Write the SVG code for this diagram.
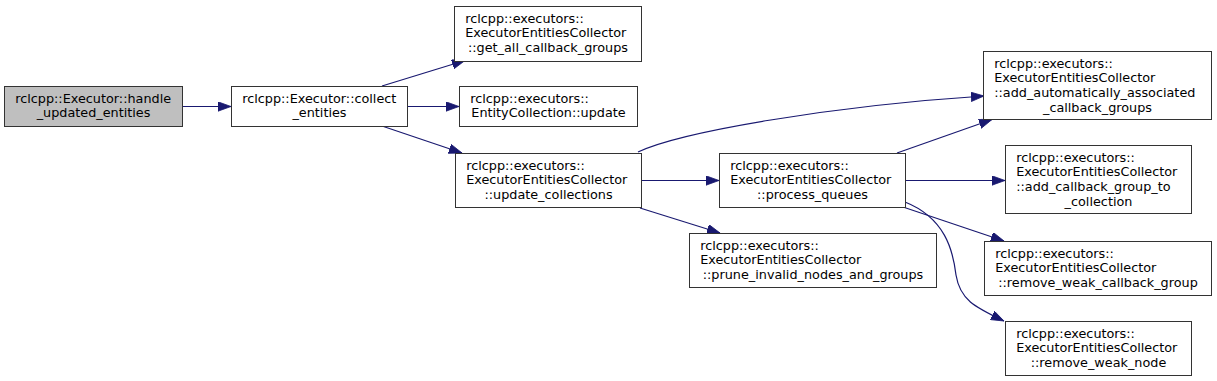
<svg xmlns="http://www.w3.org/2000/svg" width="1217" height="381" viewBox="0 0 1217 381">
<defs>
<style>
.box{fill:#ffffff;stroke:#333333;stroke-width:1}
.root{fill:#bfbfbf}
text{font-family:"DejaVu Sans","Liberation Sans",sans-serif;font-size:12.8px;fill:#000000}
.c{text-anchor:middle}
.edge{fill:none;stroke:#191970;stroke-width:1.2;marker-end:url(#ah)}
</style>
<marker id="ah" markerUnits="userSpaceOnUse" markerWidth="14" markerHeight="10" refX="13" refY="4.7" orient="auto">
<path d="M0,0 L13,4.7 L0,9.4 z" fill="#191970" stroke="#191970" stroke-width="0.8"/>
</marker>
</defs>
<rect width="1217" height="381" fill="#ffffff"/>
<g id="edges">
<path class="edge" d="M183,106.5 L231,106.5"/>
<path class="edge" d="M382,86 L465,60.5"/>
<path class="edge" d="M407,106.5 L459,106.5"/>
<path class="edge" d="M382,126 L462,153"/>
<path class="edge" d="M641,180.5 L719,180.5"/>
<path class="edge" d="M640,208 L720,233"/>
<path class="edge" d="M638,152 C680,132 830,106 984,96"/>
<path class="edge" d="M897,153 L992,119.5"/>
<path class="edge" d="M905,180.5 L1005,180.5"/>
<path class="edge" d="M903,207 L1004,241"/>
<path class="edge" d="M905,202 C945,218 953,250 956,275 C960,300 975,307 1004,321"/>
</g>
<g id="n1">
<rect class="box root" x="4.5" y="86.5" width="178" height="40"/>
<text x="15.2" y="102.5">rclcpp::Executor::handle</text>
<text class="c" x="93.5" y="117.2">_updated_entities</text>
</g>
<g id="n2">
<rect class="box" x="231.5" y="86.5" width="176" height="40"/>
<text x="242.2" y="102.5">rclcpp::Executor::collect</text>
<text class="c" x="319.5" y="117.2">_entities</text>
</g>
<g id="n3">
<rect class="box" x="454.5" y="6.5" width="187" height="55"/>
<text x="465.2" y="22.5">rclcpp::executors::</text>
<text x="465.2" y="37.2">ExecutorEntitiesCollector</text>
<text class="c" x="548" y="51.8">::get_all_callback_groups</text>
</g>
<g id="n4">
<rect class="box" x="459.5" y="86.5" width="178" height="40"/>
<text x="470.2" y="102.5">rclcpp::executors::</text>
<text class="c" x="548.5" y="117.2">EntityCollection::update</text>
</g>
<g id="n5">
<rect class="box" x="455.5" y="153.5" width="186" height="54"/>
<text x="466.2" y="169.5">rclcpp::executors::</text>
<text x="466.2" y="184.2">ExecutorEntitiesCollector</text>
<text class="c" x="548.5" y="198.8">::update_collections</text>
</g>
<g id="n6">
<rect class="box" x="719.5" y="153.5" width="186" height="54"/>
<text x="730.2" y="169.5">rclcpp::executors::</text>
<text x="730.2" y="184.2">ExecutorEntitiesCollector</text>
<text class="c" x="812.5" y="198.8">::process_queues</text>
</g>
<g id="n7">
<rect class="box" x="689.5" y="233.5" width="247" height="54"/>
<text x="700.2" y="249.5">rclcpp::executors::</text>
<text x="700.2" y="264.2">ExecutorEntitiesCollector</text>
<text class="c" x="813" y="278.8">::prune_invalid_nodes_and_groups</text>
</g>
<g id="n8">
<rect class="box" x="983.5" y="51.5" width="228" height="68"/>
<text x="994.2" y="67.5">rclcpp::executors::</text>
<text x="994.2" y="82.2">ExecutorEntitiesCollector</text>
<text x="994.2" y="96.8">::add_automatically_associated</text>
<text class="c" x="1097.5" y="111.5">_callback_groups</text>
</g>
<g id="n9">
<rect class="box" x="1005.5" y="145.5" width="186" height="68"/>
<text x="1016.2" y="161.5">rclcpp::executors::</text>
<text x="1016.2" y="176.2">ExecutorEntitiesCollector</text>
<text x="1016.2" y="190.8">::add_callback_group_to</text>
<text class="c" x="1098.5" y="205.5">_collection</text>
</g>
<g id="n10">
<rect class="box" x="984.5" y="241.5" width="227" height="54"/>
<text x="995.2" y="257.5">rclcpp::executors::</text>
<text x="995.2" y="272.2">ExecutorEntitiesCollector</text>
<text class="c" x="1098" y="286.8">::remove_weak_callback_group</text>
</g>
<g id="n11">
<rect class="box" x="1005.5" y="321.5" width="186" height="54"/>
<text x="1016.2" y="337.5">rclcpp::executors::</text>
<text x="1016.2" y="352.2">ExecutorEntitiesCollector</text>
<text class="c" x="1098.5" y="366.8">::remove_weak_node</text>
</g>
</svg>
